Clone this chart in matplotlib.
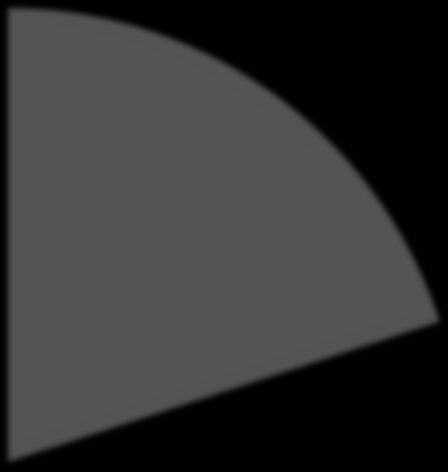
import matplotlib
matplotlib.use('Agg')
import matplotlib.pyplot as plt
import matplotlib.colors as mcolors
import numpy as np

labels = ['share', 'rest']
values = [20, 80]
colors = ['#555555', 'black']


def soft_edge(sigma):
    # agg filter: gaussian blur of the alpha channel, colour kept flat
    def f(im, dpi):
        s = sigma * dpi / 100.0
        pad = int(4 * s) + 1
        a = np.pad(im[:, :, 3], pad, mode='constant')
        x = np.arange(-pad, pad + 1)
        k = np.exp(-x ** 2 / (2 * s ** 2))
        k = k / k.sum()
        a = np.apply_along_axis(lambda m: np.convolve(m, k, mode='same'), 0, a)
        a = np.apply_along_axis(lambda m: np.convolve(m, k, mode='same'), 1, a)
        out = np.zeros(a.shape + (4,))
        out[:, :, :3] = mcolors.to_rgb(colors[0])
        out[:, :, 3] = a
        return out, -pad, -pad
    return f


fig = plt.figure(figsize=(4.48, 4.72), dpi=100, facecolor='black')
ax = fig.add_axes([0, 0, 1, 1])
ax.set_facecolor('black')

wedges, _ = ax.pie(values, colors=colors, startangle=90, counterclock=False,
                   wedgeprops={'linewidth': 0})
wedges[1].set_visible(False)
wedges[0].set_agg_filter(soft_edge(3.0))

ax.set_xlim(-8 / 454, 440 / 454)
ax.set_ylim(-10 / 454, 462 / 454)
ax.set_aspect('auto')
ax.axis('off')

fig.savefig('out.png', dpi=100, facecolor='black')
